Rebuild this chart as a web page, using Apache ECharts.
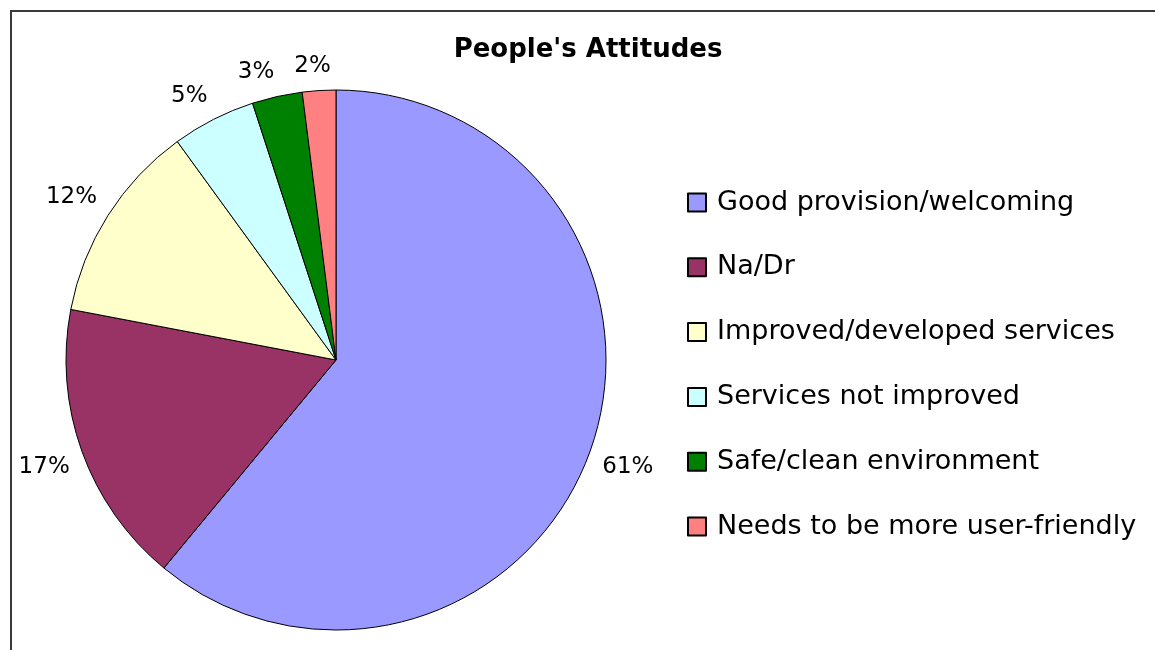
<!DOCTYPE html>
<html>
<head>
<meta charset="utf-8">
<script src="https://cdn.jsdelivr.net/npm/echarts@6/dist/echarts.min.js"></script>
<style>
  html, body { margin: 0; padding: 0; background: #fff; }
  #chart { width: 1155px; height: 650px; }
</style>
</head>
<body>
<div id="chart"></div>
<script>
  // data
  const categories = [
    'Good provision/welcoming',
    'Na/Dr',
    'Improved/developed services',
    'Services not improved',
    'Safe/clean environment',
    'Needs to be more user-friendly'
  ]
  const values = [61, 17, 12, 5, 3, 2]
  const colors = ['#9999FF', '#993366', '#FFFFCC', '#CCFFFF', '#008000', '#FF8080']

  const CX = 336, CY = 360, R = 270
  const total = values.reduce((a, b) => a + b, 0)

  let chart = echarts.init(document.getElementById('chart'))

  let clamp = v => Math.max(-1, Math.min(1, v))

  let option = {
    animation: false,
    title: {
      text: "People's Attitudes",
      left: 583,
      top: 32,
      textAlign: 'center',
      textStyle: {
        fontFamily: 'DejaVu Sans',
        fontWeight: 'bold',
        fontSize: 26,
        color: '#000'
      }
    },
    graphic: [{
      type: 'rect',
      z: -10,
      shape: { x: 11, y: 11, width: 1300, height: 800 },
      style: { fill: 'none', stroke: '#3a3a3a', lineWidth: 2 }
    }],
    legend: {
      orient: 'vertical',
      left: 687,
      top: 189,
      padding: 0,
      icon: 'rect',
      itemWidth: 18,
      itemHeight: 18,
      itemGap: 37.8,
      selectedMode: false,
      textStyle: {
        fontFamily: 'DejaVu Sans',
        fontSize: 27,
        lineHeight: 26,
        color: '#000',
        padding: [0, 0, 0, 6]
      },
      data: categories
    },
    color: colors,
    series: [{
      type: 'pie',
      center: [CX, CY],
      radius: R,
      startAngle: 90,
      clockwise: true,
      avoidLabelOverlap: false,
      itemStyle: { borderColor: '#000', borderWidth: 1 },
      emphasis: { disabled: true },
      label: {
        show: true,
        position: 'outside',
        formatter: '{d}%',
        fontFamily: 'DejaVu Sans',
        fontSize: 23,
        lineHeight: 20,
        color: '#000'
      },
      labelLine: { show: false },
      // nearest corner of each label sits just outside the rim on the slice's mid-line
      labelLayout: function (params) {
        let before = 0
        for (let i = 0; i < params.dataIndex; i++) before += values[i]
        let mid = (before + values[params.dataIndex] / 2) / total * Math.PI * 2
        let dx = Math.sin(mid), dy = -Math.cos(mid)
        let w = params.labelRect.width, h = params.labelRect.height
        let dist = R + 13
        return {
          x: CX + dx * dist + clamp(dx * 5) * w / 2,
          y: CY + dy * dist + clamp(dy * 5) * h / 2,
          align: 'center',
          verticalAlign: 'middle'
        }
      },
      data: categories.map((name, i) => ({ name: name, value: values[i] }))
    }]
  }

  chart.setOption(option)
</script>
</body>
</html>
